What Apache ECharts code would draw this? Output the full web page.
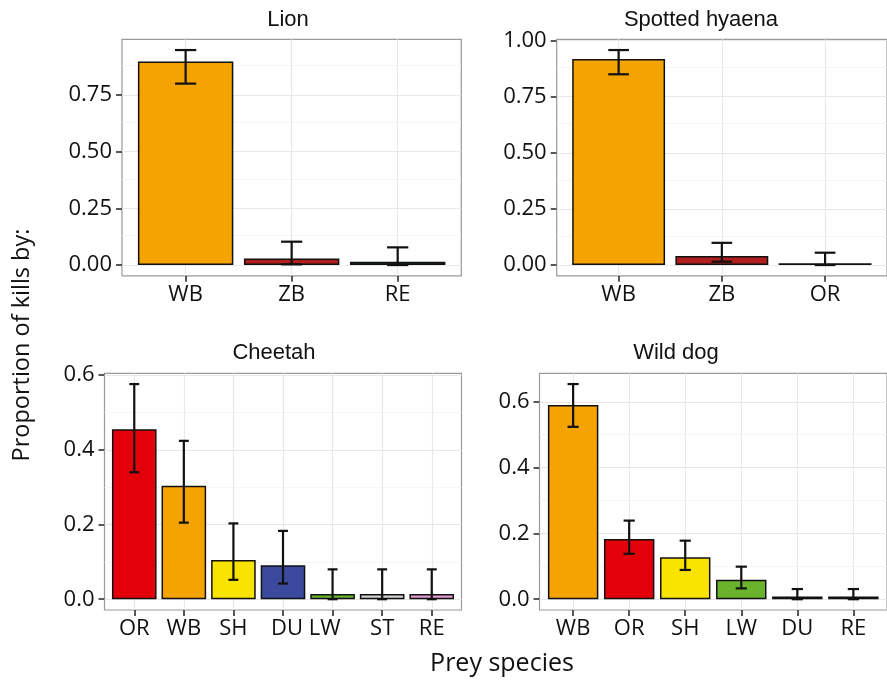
<!DOCTYPE html>
<html><head><meta charset="utf-8">
<script src="https://cdn.jsdelivr.net/npm/echarts@6/dist/echarts.min.js"></script>
<style>html,body{margin:0;padding:0;background:#fff}#c{width:887px;height:689px}</style>
</head><body><div id="c"></div>
<script>
// ---- data ----
const lionCats = ['WB', 'ZB', 'RE'];
const lionVals = [0.897, 0.029, 0.015];
const lionLow = [0.800, 0.003, 0.000];
const lionHigh = [0.948, 0.103, 0.078];
const lionColors = ['#F4A300', '#B01E1E', '#1F4F2A'];

const hyaenaCats = ['WB', 'ZB', 'OR'];
const hyaenaVals = [0.918, 0.040, 0.008];
const hyaenaLow = [0.850, 0.015, 0.000];
const hyaenaHigh = [0.958, 0.099, 0.055];
const hyaenaColors = ['#F4A300', '#B01E1E', '#111111'];

const cheetahCats = ['OR', 'WB', 'SH', 'DU', 'LW', 'ST', 'RE'];
const cheetahVals = [0.455, 0.304, 0.105, 0.091, 0.014, 0.014, 0.014];
const cheetahLow = [0.340, 0.205, 0.052, 0.042, 0.000, 0.000, 0.000];
const cheetahHigh = [0.576, 0.424, 0.203, 0.183, 0.080, 0.080, 0.080];
const cheetahColors = ['#E3000B', '#F4A300', '#F8E400', '#3B4A9C', '#6AB42D', '#D3D3D3', '#E49BCF'];

const dogCats = ['WB', 'OR', 'SH', 'LW', 'DU', 'RE'];
const dogVals = [0.590, 0.183, 0.128, 0.059, 0.008, 0.008];
const dogLow = [0.524, 0.138, 0.089, 0.033, 0.000, 0.000];
const dogHigh = [0.654, 0.239, 0.178, 0.099, 0.031, 0.031];
const dogColors = ['#F4A300', '#E3000B', '#F8E400', '#6AB42D', '#2B3A6B', '#C9A3B6'];

const lionTicks = [0, 0.25, 0.5, 0.75];
const lionMinor = [0.125, 0.375, 0.625, 0.875];
const hyaenaTicks = [0, 0.25, 0.5, 0.75, 1.0];
const hyaenaMinor = [0.125, 0.375, 0.625, 0.875];
const cheetahTicks = [0, 0.2, 0.4, 0.6];
const cheetahMinor = [0.1, 0.3, 0.5];
const dogTicks = [0, 0.2, 0.4, 0.6];
const dogMinor = [0.1, 0.3, 0.5];

const panelTitles = ['Lion', 'Spotted hyaena', 'Cheetah', 'Wild dog'];
const yTitle = 'Proportion of kills by:';
const xTitle = 'Prey species';

// ---- layout ----
const panels = [
  {cats: lionCats, vals: lionVals, low: lionLow, high: lionHigh, colors: lionColors, ticks: lionTicks, minor: lionMinor, dec: 2,
   grid: {left: 122, top: 39.3, width: 339.3, height: 236.5}},
  {cats: hyaenaCats, vals: hyaenaVals, low: hyaenaLow, high: hyaenaHigh, colors: hyaenaColors, ticks: hyaenaTicks, minor: hyaenaMinor, dec: 2,
   grid: {left: 556.7, top: 39.3, width: 339, height: 236.5}},
  {cats: cheetahCats, vals: cheetahVals, low: cheetahLow, high: cheetahHigh, colors: cheetahColors, ticks: cheetahTicks, minor: cheetahMinor, dec: 1,
   grid: {left: 104.5, top: 373.3, width: 357, height: 236.7}},
  {cats: dogCats, vals: dogVals, low: dogLow, high: dogHigh, colors: dogColors, ticks: dogTicks, minor: dogMinor, dec: 1,
   grid: {left: 539.5, top: 373.3, width: 356.7, height: 236.7}}
];
const titlePos = [[288, 20], [701, 20], [274, 353], [676, 353]];

const tickFont = '"Open Sans", "Noto Sans", sans-serif';
const tickSize = 22;
const txtColor = '#111';
const hiddenLine = {show: true, onZero: false, lineStyle: {color: 'rgba(0,0,0,0)', width: 0}};

const grids = [], xAxes = [], yAxes = [], series = [];
panels.forEach((p, k) => {
  const n = p.cats.length;
  const idx = p.cats.map((c, i) => i);
  const ymax = Math.max(...p.high);
  const pad = 0.05 * ymax;
  grids.push(Object.assign({show: true, borderColor: '#9a9a9a', borderWidth: 1.2, backgroundColor: '#fff', containLabel: false}, p.grid));
  xAxes.push({
    type: 'value', gridIndex: k, min: -0.6, max: n - 1 + 0.6, position: 'bottom',
    axisLine: hiddenLine, splitLine: {show: false},
    axisTick: {show: true, inside: false, customValues: idx, length: 6, lineStyle: {color: '#222', width: 1.5}},
    axisLabel: {customValues: idx, margin: 8, fontSize: tickSize, fontFamily: tickFont, color: txtColor,
      formatter: v => {
        const c = p.cats[Math.round(v)];
        if (k === 2 && c === 'DU') return '{du|DU}';
        if (k === 2 && c === 'LW') return '{lw|LW}';
        return c;
      },
      rich: {
        du: {fontSize: tickSize, fontFamily: tickFont, color: txtColor, padding: [0, 0, 0, 8]},
        lw: {fontSize: tickSize, fontFamily: tickFont, color: txtColor, padding: [0, 16, 0, 0]}
      }
    }
  });
  yAxes.push({
    type: 'value', gridIndex: k, min: -pad, max: ymax + pad, position: 'left',
    axisLine: hiddenLine, splitLine: {show: false},
    axisTick: {show: true, inside: false, customValues: p.ticks, length: 6, lineStyle: {color: '#222', width: 1.5}},
    axisLabel: {customValues: p.ticks, margin: 10, fontSize: tickSize, fontFamily: tickFont, color: txtColor,
      formatter: v => v.toFixed(p.dec)}
  });
  // grid lines
  const ml = [];
  p.minor.forEach(v => ml.push({yAxis: v, lineStyle: {color: '#F3F3F3', width: 0.8}}));
  p.ticks.forEach(v => ml.push({yAxis: v, lineStyle: {color: '#E8E8E8', width: 1.2}}));
  idx.forEach(v => ml.push({xAxis: v, lineStyle: {color: '#E8E8E8', width: 1.2}}));
  series.push({
    type: 'line', xAxisIndex: k, yAxisIndex: k, data: [], z: 1, silent: true,
    markLine: {silent: true, z: 1, symbol: ['none', 'none'], label: {show: false}, animation: false,
      lineStyle: {type: 'solid'}, emphasis: {disabled: true}, data: ml}
  });
  series.push({
    type: 'bar', xAxisIndex: k, yAxisIndex: k, z: 3, barWidth: '90%',
    itemStyle: {borderColor: '#111', borderWidth: 1.5},
    data: p.vals.map((v, i) => ({value: [i, v], itemStyle: {color: p.colors[i]}}))
  });
  series.push({
    type: 'custom', xAxisIndex: k, yAxisIndex: k, z: 4, silent: true,
    data: p.vals.map((v, i) => [i, p.low[i], p.high[i]]),
    renderItem: (params, api) => {
      const x = api.value(0), lo = api.value(1), hi = api.value(2);
      const a = api.coord([x, hi]), b = api.coord([x, lo]);
      const w = api.size([1, 0])[0] * 0.2;
      const st = {stroke: '#111', lineWidth: 2.2};
      return {type: 'group', children: [
        {type: 'line', shape: {x1: a[0], y1: a[1], x2: b[0], y2: b[1]}, style: st},
        {type: 'line', shape: {x1: a[0] - w / 2, y1: a[1], x2: a[0] + w / 2, y2: a[1]}, style: st},
        {type: 'line', shape: {x1: b[0] - w / 2, y1: b[1], x2: b[0] + w / 2, y2: b[1]}, style: st}
      ]};
    }
  });
});

const graphics = panelTitles.map((t, k) => ({
  type: 'text', x: titlePos[k][0], y: titlePos[k][1],
  style: {text: t, fill: txtColor, font: '22px "Liberation Sans", Arial, sans-serif', textAlign: 'center', textVerticalAlign: 'middle'}
}));
graphics.push({type: 'text', x: 22, y: 345, rotation: Math.PI / 2,
  style: {text: yTitle, fill: txtColor, font: '23.5px "Open Sans", sans-serif', textAlign: 'center', textVerticalAlign: 'middle'}});
graphics.push({type: 'text', x: 502, y: 664,
  style: {text: xTitle, fill: txtColor, font: '25px "Open Sans", sans-serif', textAlign: 'center', textVerticalAlign: 'middle'}});

const chart = echarts.init(document.getElementById('c'), null, {renderer: 'canvas'});
chart.setOption({
  animation: false,
  backgroundColor: '#fff',
  grid: grids, xAxis: xAxes, yAxis: yAxes, series: series,
  graphic: graphics
});
</script>
</body></html>
